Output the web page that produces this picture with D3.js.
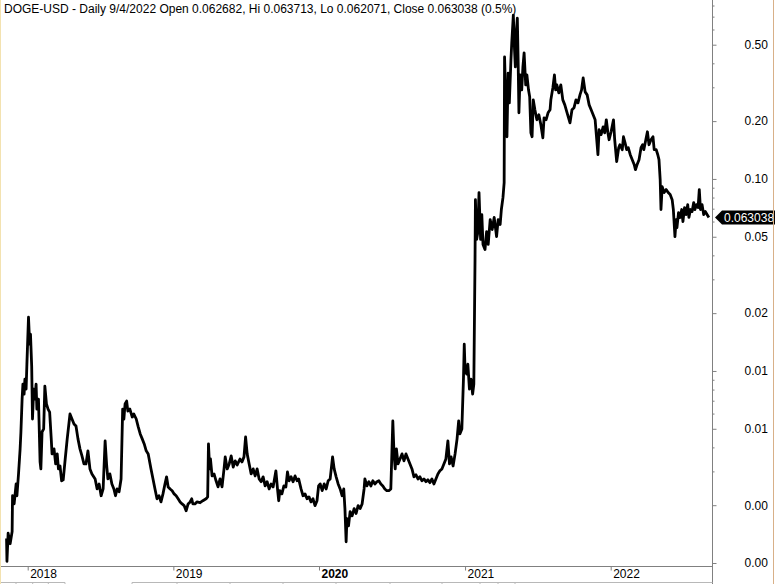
<!DOCTYPE html>
<html><head><meta charset="utf-8">
<script src="https://cdn.jsdelivr.net/npm/d3@7"></script>
<style>
body{margin:0;background:#fff;overflow:hidden}
svg{display:block}
text{font-family:"Liberation Sans",Arial,sans-serif}
</style>
</head><body>
<svg id="chart" width="775" height="584"></svg>
<script>
// ---------- data ----------
const titleText = "DOGE-USD - Daily 9/4/2022 Open 0.062682, Hi 0.063713, Lo 0.062071, Close 0.063038 (0.5%)";
const firstBarDate = [2017, 10, 9]; // 2017-11-09 (first daily bar)
// days after the first bar
const dayOffsets = [
0,1,4,9,14,15,19,24,26,30,34,36,39,41,44,46,49,51,55,58,60,63,65,68,71,74,76,80,84,86,89,93,96,100,104,108,112,114,119,123,127,130,134,138,142,147,152,159,164,169,174,179,184,189,194,199,204,209,214,222,227,232,237,242,247,251,254,259,264,269,273,277,282,287,291,294,297,301,304,309,315,319,325,330,335,340,345,350,355,362,367,372,377,382,387,392,397,401,405,410,415,420,425,430,435,440,445,450,455,460,464,467,472,477,485,
492,500,504,506,509,511,515,520,525,530,535,540,545,548,553,558,563,568,573,578,585,590,595,599,603,608,613,618,623,628,633,638,643,648,653,658,663,668,675,679,682,685,690,695,700,704,708,713,718,723,728,732,738,743,748,753,758,763,768,773,778,782,786,791,796,801,806,811,817,821,826,831,836,841,845,848,851,853,857,861,866,871,876,881,886,891,896,898,903,908,913,918,923,928,933,938,943,948,953,958,963,968,971,974,977,981,986,991,996,1001,1006,1011,1016,1021,1026,1031,1036,1041,1046,1051,1056,1061,1066,1071,1076,1081,1086,1091,1096,1101,1106,1110,1114,1119,1124,1129,1133,1136,1141,1145,1147,1149,1153,1156,1160,1164,1168,1171,
1174,1175,1178,1181,1184,1188,1191,1194,1199,1203,1207,1212,1217,1222,1228,1232,1237,1240,1244,1247,1248,1251,1254,1257,1260,1264,1266,1270,1273,1275,1278,1280,1282,1284,1287,1291,1294,1297,1301,1304,1308,1311,1314,1317,1320,1324,1329,1334,1339,1344,1347,1352,1357,1362,1364,1369,1373,1376,1379,1384,1389,1394,1399,1404,1412,1417,1422,1427,1432,1437,1441,1445,1450,1455,1460,1465,1470,1475,1482,1485,1490,1495,1499,1503,1507,1510,1515,1521,1524,1529,1534,1537,1543,1546,1550,1554,1558,1563,1568,1573,1576,1580,1585,1590,1594,1597,1602,1606,1610,1615,1620,1623,1628,1632,1635,1638,1640,1643,1648,1653,1658,1663,1668,1671,1675,1678,1680,1684,1688,1692,1695,1699,1703,1707,1710,1714,1718,1722,1725,1729,1733,1736,1739,1743,1747,1751,1760
];
// daily closes (USD)
const closes = [
0.00134,0.00102,0.00143,0.00126,0.00146,0.00224,0.00203,0.00258,0.00224,0.00291,0.00393,0.00481,0.00714,0.00855,0.00758,0.00907,0.00805,0.01085,0.01905,0.01378,0.01553,0.01059,0.00562,0.00805,0.00714,0.00855,0.00633,0.00714,0.00336,0.00309,0.00481,0.00499,0.00834,0.00673,0.00633,0.00611,0.00443,0.0037,0.00393,0.00328,0.0037,0.00309,0.0032,0.00268,0.00271,0.00348,0.00443,0.00597,0.00562,0.0053,0.00517,0.00443,0.00393,0.00361,0.00328,0.00328,0.00384,0.00309,0.00291,0.00274,0.00243,0.00258,0.00224,0.00243,0.00432,0.0032,0.00274,0.00291,0.00258,0.00243,0.00224,0.00243,0.00235,0.00274,0.00633,0.00562,0.00673,0.00697,0.00618,0.00633,0.00576,0.00597,0.00562,0.00511,0.0047,0.00443,0.00417,0.00384,0.0037,0.00309,0.00274,0.00243,0.00216,0.00224,0.00208,0.00229,0.00258,0.00281,0.00249,0.00243,0.00238,0.00229,0.00224,0.00216,0.00208,0.00203,0.00199,0.00187,0.00203,0.00208,0.00216,0.00203,0.00203,0.00208,0.00206,
0.00211,0.00216,0.00221,0.00417,0.00309,0.00348,0.00284,0.00291,0.00268,0.00249,0.00274,0.00249,0.00309,0.00357,0.00309,0.00328,0.00361,0.00316,0.0034,0.00324,0.00348,0.00336,0.00357,0.00453,0.0037,0.00328,0.00291,0.00309,0.00284,0.00309,0.00274,0.00265,0.00281,0.00252,0.00265,0.00243,0.00258,0.00249,0.00302,0.00243,0.00211,0.00238,0.00229,0.00252,0.00249,0.00298,0.00268,0.00281,0.00265,0.00284,0.00268,0.00274,0.00243,0.00224,0.00229,0.00216,0.00221,0.00208,0.00216,0.00199,0.00211,0.00252,0.00258,0.00238,0.00258,0.00243,0.00268,0.00274,0.00357,0.00309,0.00281,0.00258,0.00243,0.00224,0.00243,0.00192,0.00129,0.0017,0.00156,0.00185,0.00176,0.00192,0.00181,0.00199,0.00192,0.00203,0.00243,0.00274,0.00252,0.00265,0.00252,0.00268,0.00258,0.00265,0.00268,0.00258,0.00252,0.00243,0.00238,0.00238,0.00243,0.00549,0.0037,0.00309,0.00393,0.00328,0.00348,0.0037,0.0034,0.0037,0.00348,0.00328,0.00309,0.00281,0.00288,0.00274,0.00281,0.00268,0.00274,0.00265,0.00271,0.00262,0.00274,0.00258,0.00274,0.00291,0.00302,0.00309,0.00328,0.00348,0.00432,0.00328,0.00357,0.0032,0.0037,0.00443,0.00549,0.0047,0.00499,0.00907,0.01378,0.01022,0.00963,0.01085,0.00805,0.00907,0.00758,0.00855,
0.0381,0.078,0.0484,0.0526,0.0849,0.0484,0.0652,0.0456,0.0429,0.0532,0.0456,0.0614,0.0545,0.063,0.0501,0.0614,0.0579,0.0693,0.0799,0.0956,0.432,0.258,0.1658,0.356,0.249,0.416,0.509,0.713,0.469,0.383,0.596,0.688,0.416,0.221,0.348,0.291,0.383,0.453,0.309,0.348,0.291,0.2676,0.1739,0.1658,0.258,0.229,0.2032,0.2157,0.1913,0.1638,0.2081,0.2032,0.221,0.229,0.258,0.2979,0.348,0.291,0.309,0.2806,0.309,0.258,0.243,0.2237,0.196,0.229,0.2345,0.258,0.249,0.274,0.291,0.336,0.284,0.274,0.243,0.229,0.2157,0.2032,0.1337,0.1803,0.170,0.1868,0.1739,0.2032,0.1739,0.160,0.176,0.2032,0.160,0.123,0.1454,0.1507,0.142,0.1658,0.1543,0.142,0.1454,0.1337,0.126,0.1186,0.1117,0.1186,0.126,0.1454,0.1507,0.142,0.160,0.176,0.1507,0.160,0.1658,0.142,0.142,0.1337,0.126,0.0991,0.0693,0.0912,0.0849,0.088,0.0849,0.0829,0.078,0.0693,0.0501,0.0614,0.0558,0.0668,0.063,0.0693,0.060,0.0709,0.0652,0.0735,0.063,0.0693,0.0676,0.0753,0.0693,0.0735,0.0709,0.088,0.0693,0.0735,0.0652,0.0676,0.063038
];
const lastCloseLabel = "0.063038";
const yMajorTicks = [0.001, 0.002, 0.005, 0.01, 0.02, 0.05, 0.1, 0.2, 0.5];
const yMajorLabels = ["0.00", "0.00", "0.01", "0.01", "0.02", "0.05", "0.10", "0.20", "0.50"];
const yMinorTicks = [0.003,0.004,0.006,0.007,0.008,0.009,0.03,0.04,0.06,0.07,0.08,0.09,0.3,0.4,0.6,0.7,0.8];
const yearLabels = ["2018", "2019", "2020", "2021", "2022"];
const boldYears = ["2020"];

// ---------- drawing ----------
const W = 775, H = 584;
const plotRight = 712.5, plotBottom = 566.5;
const svg = d3.select("#chart");
const base = new Date(firstBarDate[0], firstBarDate[1], firstBarDate[2]);
const data = dayOffsets.map((d, i) => ({date: d3.timeDay.offset(base, d), v: closes[i]}));

const x = d3.scaleTime()
  .domain([new Date(2018, 0, 1), new Date(2022, 0, 1)])
  .range([27.7, 610.7]);
const y = d3.scaleLog().domain([0.001, 0.5]).range([563, 44.7]);

svg.append("rect").attr("width", W).attr("height", H).attr("fill", "#fff");

// clip
svg.append("clipPath").attr("id", "plotclip")
  .append("rect").attr("x", 0).attr("y", 0).attr("width", plotRight).attr("height", plotBottom);

// price line
svg.append("path")
  .datum(data)
  .attr("clip-path", "url(#plotclip)")
  .attr("fill", "none")
  .attr("stroke", "#000")
  .attr("stroke-width", 2.8)
  .attr("stroke-linejoin", "round")
  .attr("d", d3.line().x(d => x(d.date)).y(d => y(d.v)));

// right axis (major)
const gy = svg.append("g").attr("transform", `translate(${plotRight},0)`)
  .call(d3.axisRight(y).tickValues(yMajorTicks)
    .tickFormat((d, i) => yMajorLabels[i]).tickSize(4).tickPadding(28));
gy.select(".domain").remove();
gy.selectAll("line").attr("stroke", "#808080");
gy.selectAll("text").attr("font-size", 12).attr("fill", "#000")
  .attr("font-family", "'Liberation Sans',Arial,sans-serif");

// right axis minor ticks
const gm = svg.append("g").attr("transform", `translate(${plotRight},0)`)
  .call(d3.axisRight(y).tickValues(yMinorTicks).tickFormat("").tickSize(2));
gm.select(".domain").remove();
gm.selectAll("line").attr("stroke", "#808080");

// axis lines
svg.append("line").attr("x1", plotRight).attr("x2", plotRight).attr("y1", 0).attr("y2", H)
  .attr("stroke", "#808080");
svg.append("line").attr("x1", 0).attr("x2", plotRight).attr("y1", plotBottom).attr("y2", plotBottom)
  .attr("stroke", "#808080");

// bottom axis
const yearDates = yearLabels.map(s => new Date(+s, 0, 1));
const gx = svg.append("g").attr("transform", `translate(0,${plotBottom})`)
  .call(d3.axisBottom(x).tickValues(yearDates).tickFormat(d3.timeFormat("%Y")).tickSize(4));
gx.select(".domain").remove();
gx.selectAll("line").attr("stroke", "#808080");
gx.selectAll("text")
  .attr("font-size", 12).attr("fill", "#000")
  .attr("font-family", "'Liberation Sans',Arial,sans-serif")
  .attr("text-anchor", "start").attr("x", 2).attr("y", 11.5).attr("dy", null)
  .attr("font-weight", d => boldYears.includes(d3.timeFormat("%Y")(d)) ? "bold" : "normal");

// bottom strip (partially visible lower panel)
const strip = svg.append("g").attr("stroke", "#b8b8b8");
[[0, 65], [132, plotRight]].forEach(s =>
  strip.append("line").attr("x1", s[0]).attr("x2", s[1]).attr("y1", 582.5).attr("y2", 582.5));
[16, 32.7, 48.3, 65, 132, 177, 230, 283, 336, 390, 442, 480, 498, 515].forEach(px =>
  strip.append("line").attr("x1", px).attr("x2", px).attr("y1", 582.5).attr("y2", 584));

// last price marker
const ly = Math.round(y(closes[closes.length - 1])) + 0.5;
svg.append("path")
  .attr("d", `M715,${ly} L722,${ly - 7} L775,${ly - 7} L775,${ly + 7} L722,${ly + 7} Z`)
  .attr("fill", "#000");
svg.append("text").attr("x", 724).attr("y", ly).attr("dy", "0.36em")
  .attr("font-size", 12).attr("fill", "#fff").text(lastCloseLabel);

// borders
svg.append("line").attr("x1", 0.5).attr("x2", 0.5).attr("y1", 0).attr("y2", H)
  .attr("stroke", "#f3e2b0");
svg.append("line").attr("x1", 773.5).attr("x2", 773.5).attr("y1", 0).attr("y2", H)
  .attr("stroke", "#d8b088");

// title
svg.append("text").attr("x", 4).attr("y", 13).attr("font-size", 12).attr("fill", "#000")
  .text(titleText);
</script>
</body></html>
